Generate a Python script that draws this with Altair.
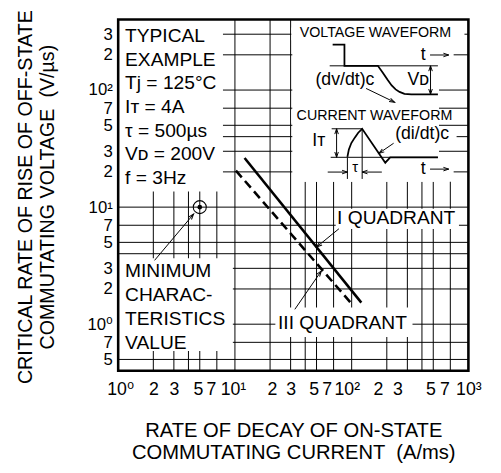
import altair as alt
import pandas as pd

# ---------------- data ----------------
x_ticks = [1, 2, 3, 5, 7, 10, 20, 30, 50, 70, 100, 200, 300, 500, 700, 1000]
x_tick_labels = ["10⁰", "2", "3", "5", "7", "10¹", "2", "3", "5", "7", "10²", "2", "3", "5", "7", "10³"]
y_ticks = [300, 200, 100, 70, 50, 30, 20, 10, 7, 5, 3, 2, 1, 0.7, 0.5]
y_tick_labels = ["3", "2", "10²", "7", "5", "3", "2", "10¹", "7", "5", "3", "2", "10⁰", "7", "5"]
x_grid = [2, 3, 4, 5, 7, 10, 20, 30, 40, 50, 70, 100, 200, 300, 400, 500, 700]
y_grid = [0.5, 0.7, 1, 2, 3, 4, 5, 7, 10, 20, 30, 40, 50, 70, 100, 200, 300]

quad1_x = [12.1, 121]      # I quadrant (solid)
quad1_y = [26.3, 1.53]
quad3_x = [10.2, 98]       # III quadrant (dashed)
quad3_y = [20.5, 1.53]

min_point_x = [5]
min_point_y = [10]

typical_lines = ["TYPICAL", "EXAMPLE", "Tj = 125°C", "Iᴛ = 4A", "τ = 500µs", "Vᴅ = 200V", "f = 3Hz"]
min_lines = ["MINIMUM", "CHARAC-", "TERISTICS", "VALUE"]

# inset schematic (schematic units)
volt_u = [42, 54, 54, 88, 93, 98, 102, 106, 110, 115, 122, 149]
volt_v = [25.5, 25.5, 47, 47, 54, 61.5, 67, 71, 73.5, 75.5, 76, 76]
curr_u = [57, 58.5, 61, 64.5, 68, 72, 95.5, 100.5, 149]
curr_v = [139.5, 132, 125.5, 120, 115, 111, 145.5, 140, 140]

# ---------------- helpers ----------------
FONT = "Liberation Sans, Arial, Helvetica, DejaVu Sans, sans-serif"
ONE = pd.DataFrame({"k": [0]})


def ternary(vals, outs, default):
    return " : ".join(f"datum.value == {v} ? {o}" for v, o in zip(vals, outs)) + f" : {default}"


x_label_expr = ternary(x_ticks, [f"'{l}'" for l in x_tick_labels], "''")
y_label_expr = ternary(y_ticks, [f"'{l}'" for l in y_tick_labels], "''")
x_off = {1: 2, 5: -2, 7: -6, 10: -2, 20: 2, 50: -3, 70: -7, 100: -5, 200: -9, 300: -10, 500: -3, 700: -6}
x_off_expr = ternary(list(x_off.keys()), list(x_off.values()), "0")

XS = alt.Scale(type="log", domain=[1, 1000], nice=False)
YS = alt.Scale(type="log", domain=[0.4, 400], nice=False)

XAXIS = alt.Axis(
    values=x_ticks, labelExpr=x_label_expr, labelOffset=alt.ExprRef(expr=x_off_expr),
    ticks=False, tickSize=0, domain=False, grid=False,
    labelFont=FONT, labelFontSize=18, labelColor="black", labelPadding=10,
    labelFlush=False, labelOverlap=False, labelBound=False,
    title=["RATE OF DECAY OF ON-STATE", "COMMUTATING CURRENT \u00a0(A/ms)"],
    titleFont=FONT, titleFontSize=20.5, titleFontWeight="normal", titleColor="black",
    titleLineHeight=22, titleY=51, titleBaseline="top",
)
YAXIS = alt.Axis(
    values=y_ticks, labelExpr=y_label_expr,
    ticks=False, tickSize=0, domain=False, grid=False,
    labelFont=FONT, labelFontSize=17, labelColor="black", labelPadding=6,
    labelFlush=False, labelOverlap=False, labelBound=False, labelBaseline="middle",
    title=["CRITICAL RATE OF RISE OF OFF-STATE", "COMMUTATING VOLTAGE \u00a0(V/µs)"],
    titleFont=FONT, titleFontSize=20, titleFontWeight="normal", titleColor="black",
    titleLineHeight=22, titleX=-84, titleY=180, titleBaseline="bottom", titleAngle=270,
)


def X(f):
    return alt.X(f, type="quantitative", scale=XS, axis=XAXIS)


def Y(f):
    return alt.Y(f, type="quantitative", scale=YS, axis=YAXIS)


def XD(v):
    return alt.XDatum(v, type="quantitative", scale=XS, axis=XAXIS)


def YD(v):
    return alt.YDatum(v, type="quantitative", scale=YS, axis=YAXIS)


def mask(x1, x2, y1, y2):
    return alt.Chart(ONE).mark_rect(color="white", strokeWidth=0).encode(
        x=XD(x1), x2=alt.X2Datum(x2), y=YD(y1), y2=alt.Y2Datum(y2))


def leader(x1, y1, x2, y2):
    return alt.Chart(ONE).mark_rule(color="black", strokeWidth=1).encode(
        x=XD(x1), x2=alt.X2Datum(x2), y=YD(y1), y2=alt.Y2Datum(y2))


ARROW = "M -0.6 1.8 L 0 0 L 0.6 1.8"

# ---------------- main (log-log) layers ----------------
grid_v = alt.Chart(pd.DataFrame({"gx": x_grid})).mark_rule(color="black", strokeWidth=1).encode(x=X("gx"))
grid_h = alt.Chart(pd.DataFrame({"gy": y_grid})).mark_rule(color="black", strokeWidth=1).encode(y=Y("gy"))

q1 = alt.Chart(pd.DataFrame({"x": quad1_x, "y": quad1_y})).mark_line(
    color="black", strokeWidth=2.6).encode(x=X("x"), y=Y("y"))
q3 = alt.Chart(pd.DataFrame({"x": quad3_x, "y": quad3_y})).mark_line(
    color="black", strokeWidth=2.6, strokeDash=[9, 5]).encode(x=X("x"), y=Y("y"))

mp = pd.DataFrame({"x": min_point_x, "y": min_point_y})
circ = alt.Chart(mp).mark_point(shape="circle", size=175, filled=False, color="black",
                                strokeWidth=1.1, opacity=1).encode(x=X("x"), y=Y("y"))
dot = alt.Chart(mp).mark_point(shape="circle", size=22, filled=True, color="black",
                               opacity=1).encode(x=X("x"), y=Y("y"))

heads_main = alt.Chart(pd.DataFrame({"x": [4.43, 50, 55], "y": [8.73, 4.56, 2.85], "a": [40, 231, 36]})).mark_point(
    shape=ARROW, size=40, filled=False, color="black", strokeWidth=1, opacity=1).encode(
    x=X("x"), y=Y("y"), angle=alt.Angle("a:Q", scale=None))

txt_typ = alt.Chart(ONE).mark_text(align="left", baseline="top", font=FONT, fontSize=19.5,
                                   lineHeight=24, dx=7, dy=8, color="black").encode(
    x=XD(1), y=YD(400), text=alt.value(typical_lines))
txt_min = alt.Chart(ONE).mark_text(align="left", baseline="top", font=FONT, fontSize=19.5,
                                   lineHeight=24.3, dx=7, dy=9, color="black").encode(
    x=XD(1), y=YD(4), text=alt.value(min_lines))
txt_q1 = alt.Chart(ONE).mark_text(align="left", baseline="middle", font=FONT, fontSize=19.5,
                                  color="black").encode(x=XD(75), y=YD(8), text=alt.value("I QUADRANT"))
txt_q3 = alt.Chart(ONE).mark_text(align="left", baseline="middle", font=FONT, fontSize=19.5,
                                  color="black").encode(x=XD(23.4), y=YD(1.02), text=alt.value("III QUADRANT"))

frame = alt.Chart(ONE).mark_rect(fillOpacity=0, stroke="black", strokeWidth=2.6).encode(
    x=XD(1), x2=alt.X2Datum(1000), y=YD(0.4), y2=alt.Y2Datum(400))

main = alt.layer(
    grid_v,
    mask(31, 1000, 16.5, 400),
    grid_h,
    mask(31, 560, 16.5, 400),
    mask(1, 7.9, 13.6, 400),
    mask(1, 9.6, 0.59, 3.66),
    mask(73, 830, 6.5, 9.7),
    mask(22.2, 332, 0.778, 1.39),
    q1, q3, circ, dot,
    leader(2.05, 3.51, 4.43, 8.73),
    leader(77.7, 6.53, 50, 4.56),
    leader(32.6, 1.34, 55, 2.85),
    heads_main,
    txt_typ, txt_min, txt_q1, txt_q3,
    frame,
)

# ---------------- inset (schematic) layers ----------------
UX = alt.Scale(domain=[0, 180], range=[176, 356], nice=False, zero=False)
UY = alt.Scale(domain=[0, 166], range=[0, 166], nice=False, zero=False)


def U(f):
    return alt.X(f, type="quantitative", scale=UX, axis=None)


def V(f):
    return alt.Y(f, type="quantitative", scale=UY, axis=None)


# white backgrounds behind inset labels that sit on grid stubs
bg = pd.DataFrame({
    "u":  [0, 0, 102, 128, 128],
    "u2": [176, 176, 168, 165, 165],
    "v":  [8, 92, 109, 30, 146],
    "v2": [21, 105, 124, 42, 158],
})
inset_bg = alt.Chart(bg).mark_rect(color="white", strokeWidth=0).encode(
    x=U("u"), x2="u2", y=V("v"), y2="v2")

volt = alt.Chart(pd.DataFrame({"u": volt_u, "v": volt_v, "i": range(len(volt_u))})).mark_line(
    color="black", strokeWidth=1.8).encode(x=U("u"), y=V("v"), order="i:Q")
curr = alt.Chart(pd.DataFrame({"u": curr_u, "v": curr_v, "i": range(len(curr_u))})).mark_line(
    color="black", strokeWidth=1.8).encode(x=U("u"), y=V("v"), order="i:Q")

segs = pd.DataFrame({
    "u":  [39, 141.5, 40, 41, 46, 57, 72, 37, 92, 76, 104, 141, 141],
    "v":  [47, 47, 140, 111, 111, 140, 111, 155, 155, 70, 125.7, 36, 152],
    "u2": [149, 141.5, 149, 72, 46, 57, 72, 57, 72, 105, 89, 160, 160],
    "v2": [47, 76, 140, 111, 140, 162, 162, 155, 155, 84, 136, 36, 152],
})
thin = alt.Chart(segs).mark_rule(color="black", strokeWidth=1).encode(
    x=U("u"), y=V("v"), x2="u2", y2="v2")

heads_inset = alt.Chart(pd.DataFrame({
    "u": [141.5, 141.5, 46, 46, 57, 72, 105, 89, 160, 160],
    "v": [47, 76, 111, 140, 155, 155, 84, 136, 36, 152],
    "a": [0, 180, 0, 180, 90, 270, 116, 236, 90, 90],
})).mark_point(shape=ARROW, size=36, filled=False, color="black", strokeWidth=1, opacity=1).encode(
    x=U("u"), y=V("v"), angle=alt.Angle("a:Q", scale=None))

inset_text = pd.DataFrame({
    "u": [85.5, 84.5, 134, 134, 54.5, 129, 28, 133, 65],
    "v": [14, 98, 36, 152, 61.5, 61, 123, 116.5, 150],
    "t": ["VOLTAGE WAVEFORM", "CURRENT WAVEFORM", "t", "t", "(dv/dt)ᴄ", "Vᴅ", "Iᴛ", "(di/dt)ᴄ", "τ"],
    "s": [14.5, 14.5, 18, 18, 18, 18, 18, 18, 15],
})
itext = alt.Chart(inset_text).mark_text(align="center", baseline="middle", font=FONT, color="black").encode(
    x=U("u"), y=V("v"), text="t:N", size=alt.Size("s:Q", scale=None, legend=None))

inset = alt.layer(inset_bg, volt, curr, thin, heads_inset, itext)

chart = alt.layer(main, inset).resolve_scale(x="independent", y="independent").properties(
    width=356, height=357,
    padding={"left": 112, "top": 8, "right": 25, "bottom": 92},
    autosize=alt.AutoSizeParams(type="none"),
    background="white",
).configure_view(strokeWidth=0)

chart.save("out.html", embed_options={"renderer": "svg", "actions": False})
